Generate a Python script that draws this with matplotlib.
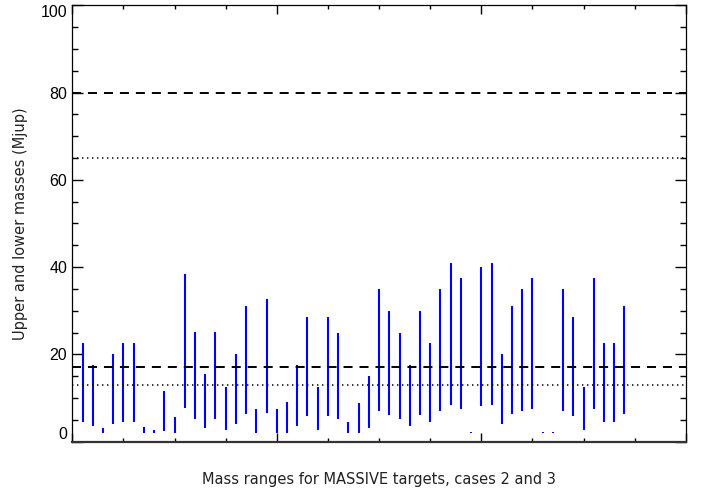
import numpy as np
import matplotlib
matplotlib.use("Agg")
from matplotlib import pyplot as plt
from matplotlib.ticker import MultipleLocator, NullFormatter

# target index along the x axis (1..54)
target = np.arange(1, 55)
# upper and lower mass limits (Mjup)
upper = [22.6, 17.6, 3.1, 20.0, 22.6, 22.6, 3.3, 2.6, 11.6, 5.6,
         38.5, 25.1, 15.6, 25.1, 12.6, 20.0, 31.0, 7.5, 32.6, 7.5,
         9.2, 17.5, 28.5, 12.6, 28.5, 25.0, 4.5, 8.8, 15.0, 35.0,
         30.0, 25.0, 17.5, 30.0, 22.5, 35.0, 41.0, 37.5, 2.25, 40.0,
         41.0, 20.0, 31.0, 35.0, 37.5, 2.25, 2.25, 35.0, 28.5, 12.6,
         37.5, 22.5, 22.5, 31.0]
lower = [4.5, 3.6, 2.0, 4.1, 4.6, 4.6, 2.0, 2.0, 2.4, 2.0,
         7.8, 5.1, 3.1, 5.1, 2.6, 4.1, 6.3, 2.0, 6.6, 2.0,
         2.0, 3.6, 5.9, 2.6, 5.9, 5.1, 2.0, 2.0, 3.1, 7.1,
         6.1, 5.1, 3.6, 6.1, 4.6, 7.1, 8.3, 7.6, 2.0, 8.1,
         8.3, 4.1, 6.3, 7.1, 7.6, 2.0, 2.0, 7.1, 5.9, 2.6,
         7.6, 4.6, 4.6, 6.3]

# reference limits
dashed_levels = [80, 17]
dotted_levels = [65, 13]

plt.rcParams['lines.scale_dashes'] = False

fig = plt.figure(figsize=(7.02, 4.9), dpi=100)
ax = fig.add_axes([0.103, 0.0986, 0.874, 0.8906])

ax.vlines(target, lower, upper, colors='#0000ff', linewidth=1.5)

for lev in dashed_levels:
    ax.axhline(lev, color='black', linewidth=1.4, dashes=(6.5, 5.0))
for lev in dotted_levels:
    ax.axhline(lev, color='black', linewidth=1.1, dashes=(1.0, 2.6))

ax.set_xlim(0, 60)
ax.set_ylim(0, 100)

ax.xaxis.set_major_locator(MultipleLocator(20))
ax.xaxis.set_minor_locator(MultipleLocator(5))
ax.xaxis.set_major_formatter(NullFormatter())
ax.yaxis.set_major_locator(MultipleLocator(20))
ax.yaxis.set_minor_locator(MultipleLocator(5))

ax.tick_params(axis='x', which='major', direction='in', length=6.3, width=1.0,
               top=True, bottom=True)
ax.tick_params(axis='x', which='minor', direction='in', length=3.0, width=1.0,
               top=True, bottom=True)
ax.tick_params(axis='y', which='major', direction='in', length=8.0, width=1.0,
               left=True, right=True, pad=3.6, labelsize=11.5)
ax.tick_params(axis='y', which='minor', direction='in', length=4.3, width=1.0,
               left=True, right=True)

for side in ['left', 'right', 'top']:
    ax.spines[side].set_linewidth(0.9)
ax.spines['bottom'].set_linewidth(1.6)
ax.spines['bottom'].set_color('#333333')

ax.set_xlabel('Mass ranges for MASSIVE targets, cases 2 and 3', fontsize=10.5,
              color='#222222')
ax.set_ylabel('Upper and lower masses (Mjup)', fontsize=10.5, color='#222222')
ax.yaxis.set_label_coords(-0.072, 0.5)
ax.xaxis.set_label_coords(0.5, -0.069)

fig.canvas.draw()
yticks = ax.yaxis.get_major_ticks()
for t in yticks:
    t.label1.set_family('Liberation Sans')
    if abs(t.get_loc() - 100) < 1e-6:
        t.label1.set_verticalalignment('top')
    if abs(t.get_loc()) < 1e-6:
        t.label1.set_verticalalignment('bottom')

fig.savefig('out.png', dpi=100)
